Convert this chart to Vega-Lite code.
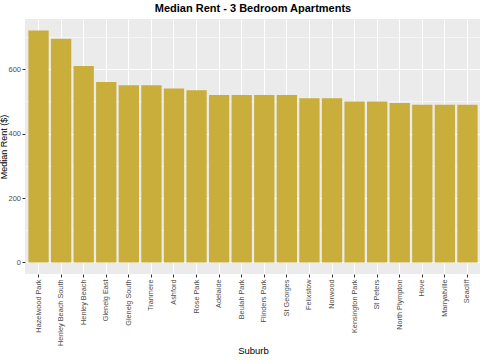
{
  "$schema": "https://vega.github.io/schema/vega-lite/v6.json",
  "autosize": {"type": "none"},
  "width": 456,
  "height": 255,
  "padding": {"left": 25, "top": 19, "right": 0, "bottom": 86},
  "background": "white",
  "title": {
    "text": "Median Rent - 3 Bedroom Apartments",
    "font": "Liberation Sans",
    "fontSize": 11,
    "fontWeight": "bold",
    "color": "black",
    "anchor": "middle",
    "frame": "group",
    "baseline": "alphabetic",
    "offset": 6,
    "dy": 10
  },
  "config": {
    "view": {"fill": "#EBEBEB", "stroke": null},
    "axis": {
      "labelFont": "Liberation Sans",
      "titleFont": "Liberation Sans",
      "labelColor": "#4D4D4D",
      "titleColor": "black",
      "titleFontWeight": "normal",
      "tickColor": "#333333",
      "domain": false,
      "gridColor": "white"
    }
  },
  "data": {
    "values": [
      {"suburb": "Hazelwood Park", "rent": 720},
      {"suburb": "Henley Beach South", "rent": 695},
      {"suburb": "Henley Beach", "rent": 610},
      {"suburb": "Glenelg East", "rent": 560},
      {"suburb": "Glenelg South", "rent": 550},
      {"suburb": "Tranmere", "rent": 550},
      {"suburb": "Ashford", "rent": 540},
      {"suburb": "Rose Park", "rent": 535},
      {"suburb": "Adelaide", "rent": 520},
      {"suburb": "Beulah Park", "rent": 520},
      {"suburb": "Flinders Park", "rent": 520},
      {"suburb": "St Georges", "rent": 520},
      {"suburb": "Felixstow", "rent": 510},
      {"suburb": "Norwood", "rent": 510},
      {"suburb": "Kensington Park", "rent": 500},
      {"suburb": "St Peters", "rent": 500},
      {"suburb": "North Plympton", "rent": 495},
      {"suburb": "Hove", "rent": 490},
      {"suburb": "Marryatville", "rent": 490},
      {"suburb": "Seacliff", "rent": 490}
    ]
  },
  "layer": [
    {
      "mark": {"type": "bar", "color": "#C9AE3B", "opacity": 0},
      "encoding": {
        "x": {"field": "suburb", "type": "nominal", "sort": null, "title": "Suburb",
          "scale": {"paddingInner": 0.1, "paddingOuter": 0.15},
          "axis": {"labelAngle": -90, "labelFontSize": 7.3, "labelPadding": 2,
            "tickSize": 3, "tickWidth": 1, "grid": true, "gridWidth": 1.1,
            "bandPosition": 0.5, "titleFontSize": 9.5, "titlePadding": 0,
            "labelAlign": "right", "labelBaseline": "middle"}},
        "y": {"field": "rent", "type": "quantitative",
          "scale": {"domain": [-36, 756], "nice": false, "zero": false},
          "axis": {"values": [100, 300, 500, 700], "labels": false, "ticks": false,
            "title": null, "grid": true, "gridWidth": 0.55, "orient": "left"}}
      }
    },
    {
      "mark": {"type": "bar", "color": "#C9AE3B"},
      "encoding": {
        "x": {"field": "suburb", "type": "nominal", "sort": null, "title": "Suburb",
          "scale": {"paddingInner": 0.1, "paddingOuter": 0.15},
          "axis": {"labelAngle": -90, "labelFontSize": 7.3, "labelPadding": 2,
            "tickSize": 3, "tickWidth": 1, "grid": true, "gridWidth": 1.1,
            "bandPosition": 0.5, "titleFontSize": 9.5, "titlePadding": 0,
            "labelAlign": "right", "labelBaseline": "middle"}},
        "y": {"field": "rent", "type": "quantitative", "title": "Median Rent ($)",
          "scale": {"domain": [-36, 756], "nice": false, "zero": false},
          "axis": {"values": [0, 200, 400, 600], "labelFontSize": 7.5, "labelPadding": 1.5,
            "tickSize": 3, "grid": true, "gridWidth": 1.1, "titleFontSize": 9,
            "titlePadding": -1, "orient": "left"}}
      }
    }
  ],
  "resolve": {"axis": {"y": "independent"}}
}
